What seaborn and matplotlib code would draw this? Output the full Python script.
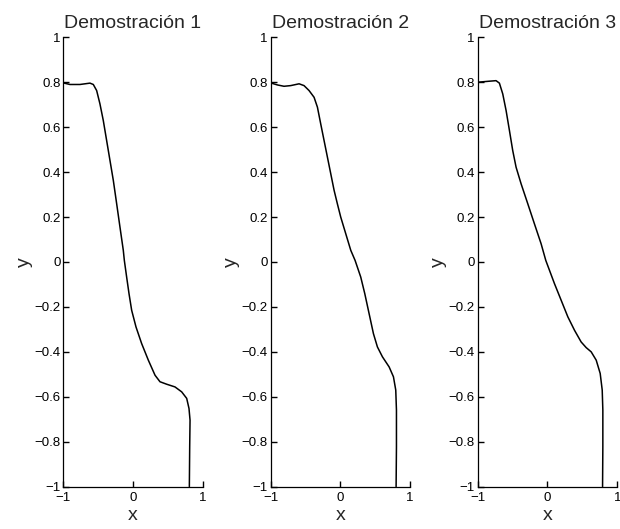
import numpy as np
import pandas as pd
import matplotlib
matplotlib.use("Agg")
import matplotlib.pyplot as plt
import seaborn as sns

titles = ["Demostración 1", "Demostración 2", "Demostración 3"]

x1 = [-1.0, -0.904, -0.76, -0.617, -0.569, -0.521, -0.474, -0.426, -0.378, -0.33, -0.282,
      -0.234, -0.187, -0.139, -0.124, -0.091, -0.057, -0.019, 0.043, 0.124, 0.22, 0.316,
      0.387, 0.483, 0.602, 0.698, 0.77, 0.803, 0.818, 0.813, 0.808]
y1 = [0.797, 0.79, 0.79, 0.796, 0.79, 0.763, 0.704, 0.63, 0.541, 0.452, 0.363,
      0.259, 0.156, 0.052, 0.007, -0.067, -0.141, -0.215, -0.289, -0.363, -0.437, -0.504,
      -0.533, -0.544, -0.556, -0.578, -0.607, -0.652, -0.704, -0.822, -1.0]

x2 = [-1.0, -0.904, -0.809, -0.713, -0.593, -0.522, -0.45, -0.378, -0.33, -0.283, -0.235,
      -0.187, -0.139, -0.091, -0.044, 0.004, 0.076, 0.148, 0.21, 0.291, 0.349, 0.411,
      0.473, 0.53, 0.602, 0.698, 0.76, 0.793, 0.803, 0.803, 0.798]
y2 = [0.797, 0.788, 0.782, 0.785, 0.793, 0.785, 0.763, 0.733, 0.689, 0.615, 0.541,
      0.467, 0.393, 0.319, 0.259, 0.20, 0.126, 0.052, 0.007, -0.067, -0.141, -0.23,
      -0.319, -0.378, -0.422, -0.467, -0.511, -0.57, -0.659, -0.822, -1.0]

x3 = [-1.0, -0.856, -0.737, -0.689, -0.641, -0.593, -0.545, -0.498, -0.45, -0.378, -0.282,
      -0.187, -0.091, -0.024, 0.029, 0.10, 0.196, 0.292, 0.388, 0.483, 0.555, 0.627,
      0.699, 0.756, 0.785, 0.794, 0.794, 0.79]
y3 = [0.80, 0.804, 0.807, 0.796, 0.748, 0.674, 0.585, 0.496, 0.422, 0.348, 0.259,
      0.17, 0.081, 0.007, -0.037, -0.096, -0.17, -0.244, -0.304, -0.356, -0.381, -0.40,
      -0.437, -0.496, -0.57, -0.659, -0.822, -1.0]

xs = [x1, x2, x3]
ys = [y1, y2, y3]

yticks = [-1, -0.8, -0.6, -0.4, -0.2, 0, 0.2, 0.4, 0.6, 0.8, 1]
ytick_labels = ["\u22121", "\u22120.8", "\u22120.6", "\u22120.4", "\u22120.2", "0", "0.2", "0.4", "0.6", "0.8", "1"]
xticks = [-1, 0, 1]
xtick_labels = ["\u22121", "0", "1"]

sns.set_theme(style="ticks")
plt.rcParams['font.family'] = ['Liberation Sans', 'DejaVu Sans']

fig = plt.figure(figsize=(6.2, 5.29), dpi=100)
lefts = [0.102, 0.4366, 0.7705]
for i in range(3):
    ax = fig.add_axes([lefts[i], 0.080, 0.225, 0.8495])
    df = pd.DataFrame({"x": xs[i], "y": ys[i]})
    sns.lineplot(data=df, x="x", y="y", sort=False, estimator=None, color="black",
                 linewidth=1.1, ax=ax)
    ax.set_xlim(-1, 1)
    ax.set_ylim(-1, 1)
    ax.set_xticks(xticks)
    ax.set_xticklabels(xtick_labels, fontsize=9.5)
    ax.set_yticks(yticks)
    ax.set_yticklabels(ytick_labels, fontsize=9.5)
    ax.tick_params(axis="both", which="major", direction="in", length=4.5, width=1.0,
                   color="black", labelcolor="black",
                   bottom=True, left=True, top=False, right=False)
    ax.tick_params(axis="y", pad=2)
    ax.tick_params(axis="x", pad=4)
    for s in ["top", "right"]:
        ax.spines[s].set_visible(False)
    for s in ["left", "bottom"]:
        ax.spines[s].set_linewidth(0.9)
        ax.spines[s].set_color("black")
    ax.set_xlabel("x", fontsize=14, labelpad=2)
    ax.set_ylabel("y", fontsize=14, labelpad=1)
    ax.set_title(titles[i], fontsize=14, pad=7)

fig.savefig("out.png", dpi=100, facecolor="white")
